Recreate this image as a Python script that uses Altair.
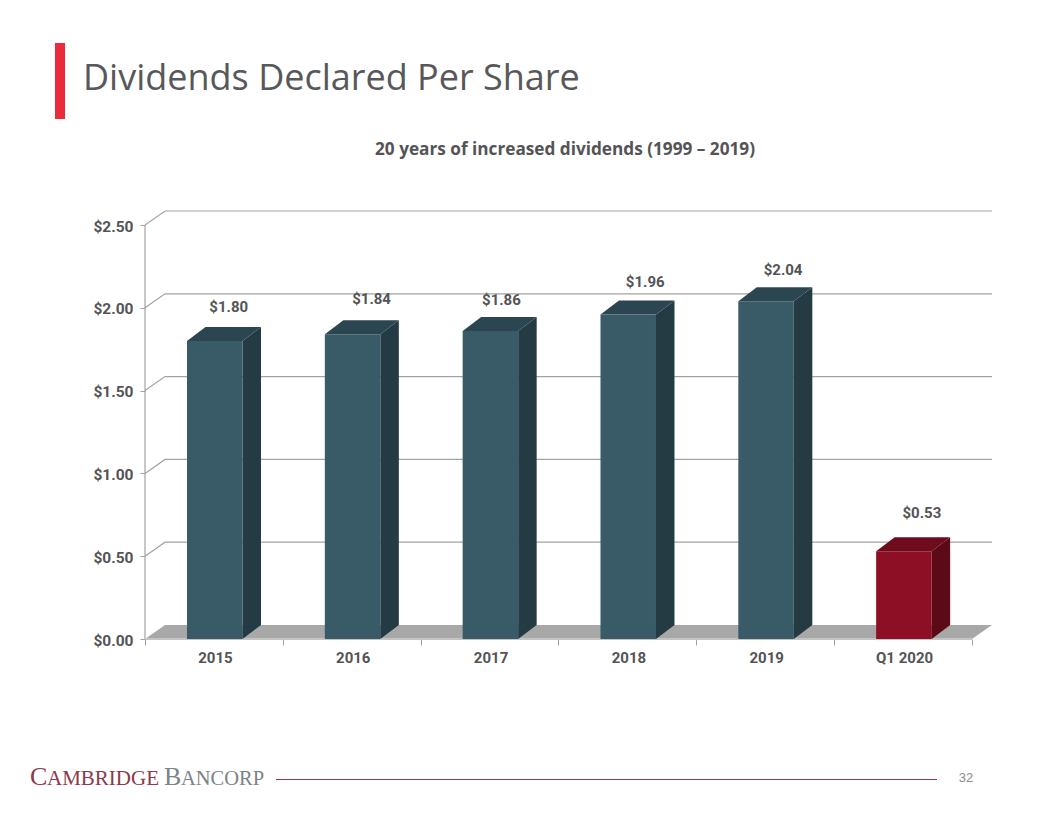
import altair as alt
import pandas as pd

categories = ["2015", "2016", "2017", "2018", "2019", "Q1 2020"]
dividends = [1.80, 1.84, 1.86, 1.96, 2.04, 0.53]
labels = ["$1.80", "$1.84", "$1.86", "$1.96", "$2.04", "$0.53"]
y_ticks = [0, 0.5, 1.0, 1.5, 2.0, 2.5]
x_ticks = [0, 1, 2, 3, 4, 5, 6]

PXX = 137.83          # px per category
PXY = 165.6           # px per dollar
W, H = 847, 428
DX, DY = 18.5 / PXX, 14 / PXY      # bar depth
FDX = 20 / PXX                     # wall / floor depth
L_OFF, BW = 42 / PXX, 55.5 / PXX
# hand-placed value labels in the reference (px offset from the bar's centre / top)
label_dx = [14, 19, 11, 17, 17, 18]
label_dy = [-34, -35, -31, -32, -31, -38]

FRONT = ["#395a67", "#395a67", "#395a67", "#395a67", "#395a67", "#8c0f25"]
SIDE = ["#243b43", "#243b43", "#243b43", "#243b43", "#243b43", "#5c0918"]
TOP = ["#2b4650", "#2b4650", "#2b4650", "#2b4650", "#2b4650", "#6e0c1d"]
GRID = "#a3a3a3"
TXT = "#545456"
FONT = "Roboto"

xs = alt.Scale(domain=[0, W / PXX], nice=False, zero=False)
ys = alt.Scale(domain=[0, H / PXY], nice=False, zero=False)

front, side, top, text = [], [], [], []
for i, (c, v) in enumerate(zip(categories, dividends)):
    l, r = i + L_OFF, i + L_OFF + BW
    front.append(dict(cat=c, x=l, x2=r, y=0, y2=v, fill=FRONT[i]))
    side += [dict(cat=c, x=r, y=v, y2=0, fill=SIDE[i]),
             dict(cat=c, x=r + DX, y=v + DY, y2=DY, fill=SIDE[i])]
    top += [dict(cat=c, x=l, y=v, y2=v, fill=TOP[i]),
            dict(cat=c, x=l + DX, y=v + DY, y2=v, fill=TOP[i]),
            dict(cat=c, x=r, y=v + DY, y2=v, fill=TOP[i]),
            dict(cat=c, x=r + DX, y=v + DY, y2=v + DY, fill=TOP[i])]
    text.append(dict(x=(l + r) / 2 + label_dx[i] / PXX,
                     y=v - label_dy[i] / PXY, t=labels[i]))

X = alt.X("x:Q", scale=xs, title=None)
Y = alt.Y("y:Q", scale=ys, title=None)

# axes
expr = "{0:'2015',1:'2016',2:'2017',3:'2018',4:'2019',5:'Q1 2020',6:''}[datum.value]"
axes = alt.Chart(pd.DataFrame({"x": [0, 6], "y": [0, 2.5]})).mark_point(opacity=0).encode(
    x=alt.X("x:Q", scale=xs, title=None, axis=alt.Axis(
        values=x_ticks, labelExpr=expr, labelOffset=PXX / 2 + 1, domain=False, grid=False,
        tickColor=GRID, tickSize=6, labelFont=FONT, labelFontWeight="bold", labelFontSize=15,
        labelColor=TXT, labelPadding=5, labelOverlap=False, labelFlush=False, labelBound=False)),
    y=alt.Y("y:Q", scale=ys, title=None, axis=alt.Axis(
        values=y_ticks, format="$.2f", domain=False, grid=False, tickColor=GRID, tickSize=5,
        labelFont=FONT, labelFontWeight="bold", labelFontSize=15.5, labelColor=TXT, labelPadding=7,
        labelOffset=1)),
)

grid_rows = []
for v in y_ticks[1:]:
    grid_rows += [dict(v=v, x=0, y=v), dict(v=v, x=FDX, y=v + 14 / PXY), dict(v=v, x=W / PXX, y=v + 14 / PXY)]
grid = alt.Chart(pd.DataFrame(grid_rows)).mark_line(color=GRID, strokeWidth=1.2).encode(x=X, y=Y, detail="v:N")

wall = alt.Chart(pd.DataFrame({"x": [0], "y": [0], "y2": [2.5]})).mark_rule(color=GRID, strokeWidth=1.2).encode(
    x=X, y=Y, y2="y2:Q")

floor_df = pd.DataFrame([
    dict(x=0, y=0, y2=0),
    dict(x=FDX, y=14 / PXY, y2=0),
    dict(x=6, y=14 / PXY, y2=0),
    dict(x=6 + FDX, y=14 / PXY, y2=14 / PXY),
])
floor = alt.Chart(floor_df).mark_area(color="#a8a8a8", interpolate="linear").encode(x=X, y=Y, y2="y2:Q")
base = alt.Chart(pd.DataFrame({"x": [0], "x2": [6], "y": [0]})).mark_rule(color="#c4c4c4", strokeWidth=2).encode(
    x=X, x2="x2:Q", y=Y)

side_l = alt.Chart(pd.DataFrame(side)).mark_area(interpolate="linear").encode(
    x=X, y=Y, y2="y2:Q", detail="cat:N", color=alt.Color("fill:N", scale=None))
top_l = alt.Chart(pd.DataFrame(top)).mark_area(interpolate="linear").encode(
    x=X, y=Y, y2="y2:Q", detail="cat:N", color=alt.Color("fill:N", scale=None))
front_l = alt.Chart(pd.DataFrame(front)).mark_rect().encode(
    x=X, x2="x2:Q", y=Y, y2="y2:Q", color=alt.Color("fill:N", scale=None))
vals = alt.Chart(pd.DataFrame(text)).mark_text(
    font=FONT, fontWeight="bold", fontSize=15, color=TXT, baseline="middle", align="center").encode(
    x=X, y=Y, text="t:N")


def page_text(t, x, y, **kw):
    return alt.Chart(pd.DataFrame({"t": [t]})).mark_text(**kw).encode(
        x=alt.value(x - 145), y=alt.value(y - 211), text="t:N")


def page_rect(x, x2, y, y2, color):
    return alt.Chart(pd.DataFrame({"a": [0]})).mark_rect(color=color).encode(
        x=alt.value(x - 145), x2=alt.value(x2 - 145), y=alt.value(y - 211), y2=alt.value(y2 - 211))


accent = page_rect(55, 65, 43, 119, "#e92b3c")
title = page_text("Dividends Declared Per Share", 83, 90, font="Open Sans", fontSize=36, color="#58585a",
                  align="left", baseline="alphabetic")
subtitle = page_text("20 years of increased dividends (1999 – 2019)", 565, 150, font="Open Sans", fontWeight="bold",
                     fontSize=17.2, color=TXT, align="center", baseline="middle")
footer_rule = page_rect(276, 937, 779, 780, "#8f3a4c")
page_no = page_text("32", 966, 778, font="Liberation Sans", fontSize=13, color="#8c8c8c",
                    align="center", baseline="middle")
LOGO_R, LOGO_G = "#8b3a4b", "#7b8388"
logo = [
    page_text("C", 30, 785, font="Liberation Serif", fontSize=26, color=LOGO_R, align="left", baseline="alphabetic"),
    page_text("AMBRIDGE", 47, 785, font="Liberation Serif", fontSize=21, color=LOGO_R, align="left", baseline="alphabetic"),
    page_text("B", 164, 785, font="Liberation Serif", fontSize=26, color=LOGO_G, align="left", baseline="alphabetic"),
    page_text("ANCORP", 181, 785, font="Liberation Serif", fontSize=20.5, color=LOGO_G, align="left", baseline="alphabetic"),
]

chart = alt.layer(
    axes, grid, wall, floor, base, side_l, top_l, front_l, vals,
    accent, title, subtitle, footer_rule, page_no, *logo,
).properties(
    width=W, height=H,
    padding={"left": 137, "top": 203, "right": 56, "bottom": 169},
    autosize=alt.AutoSizeParams(type="none"),
    background="white",
).configure_view(stroke=None)

chart.save("out.html", embed_options={"renderer": "svg", "actions": False})
